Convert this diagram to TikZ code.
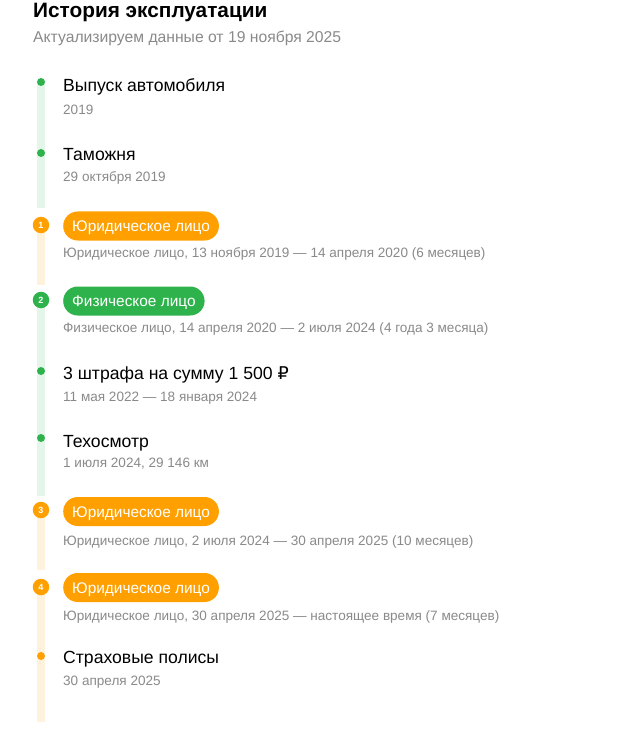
\documentclass[tikz,border=0pt]{standalone}
\usepackage{fontspec}
\setmainfont{Liberation Sans}
\newfontfamily\rubfont{DejaVu Sans}
\usetikzlibrary{positioning}

\definecolor{okgreen}{HTML}{2EB34C}
\definecolor{okorange}{HTML}{FFA000}
\definecolor{palegreen}{HTML}{E4F5EA}
\definecolor{paleorange}{HTML}{FFF2DD}
\definecolor{subgray}{HTML}{8A8A8A}

\begin{document}
\begin{tikzpicture} [x=1pt,y=-1pt,
     head/.style={anchor=base west, inner sep=0pt, font=\fontsize{17.6}{20}\selectfont},
     sub/.style={anchor=base west, inner sep=0pt, text=subgray, font=\fontsize{13.55}{15}\selectfont},
     dot/.style={circle, fill=#1, minimum size=8pt, inner sep=0pt},
     num/.style={circle, fill=#1, text=white, minimum size=16.5pt, inner sep=0pt,
                 font=\bfseries\fontsize{9}{9}\selectfont},
     pill/.style={rectangle, rounded corners=14.5pt, fill=#1, text=white, minimum height=29pt,
                  text height=11pt, text depth=0pt,
                  inner xsep=9pt, anchor=west, font=\fontsize{15.4}{18}\selectfont},
     bar/.style={line width=8pt, draw=#1}
   ]
\useasboundingbox [fill=white] (0,0) rectangle (640,743);

\node (title) [anchor=base west, inner sep=0pt, font=\bfseries\fontsize{20.8}{24}\selectfont] at (33,18) {История эксплуатации};
\node (update) [anchor=base west, inner sep=0pt, text=subgray, font=\fontsize{15.7}{18}\selectfont] at (33,43) {Актуализируем данные от 19 ноября 2025};

\coordinate (m1) at (41,82);
\coordinate (m2) at (41,153);
\coordinate (m3) at (41,225);
\coordinate (m4) at (41,300);
\coordinate (m5) at (41,371);
\coordinate (m6) at (41,438);
\coordinate (m7) at (41,510);
\coordinate (m8) at (41,587);
\coordinate (m9) at (41,656);
\coordinate (e1) at (41,208);
\coordinate (e3) at (41,285);
\coordinate (e4) at (41,496);
\coordinate (e7) at (41,570);
\coordinate (e8) at (41,722);

\draw [bar=palegreen] (m1) -- (e1);
\draw [bar=paleorange] (m3) -- (e3);
\draw [bar=palegreen] (m4) -- (e4);
\draw [bar=paleorange] (m7) -- (e7);
\draw [bar=paleorange] (m8) -- (e8);

\node (release) [dot=okgreen] at (m1) {};
\node (customs) [dot=okgreen] at (m2) {};
\node (owner1) [num=okorange] at (m3) {1};
\node (owner2) [num=okgreen] at (m4) {2};
\node (fines) [dot=okgreen] at (m5) {};
\node (inspect) [dot=okgreen] at (m6) {};
\node (owner3) [num=okorange] at (m7) {3};
\node (owner4) [num=okorange] at (m8) {4};
\node (policy) [dot=okorange] at (m9) {};

\node (releaseT) [head] at (63,92) {Выпуск автомобиля};
\node (releaseS) [sub] at (63,115) {2019};
\node (customsT) [head] at (63,161) {Таможня};
\node (customsS) [sub] at (63,182) {29 октября 2019};
\node (owner1T) [pill=okorange] at (63,226) {Юридическое лицо};
\node (owner1S) [sub] at (63,257) {Юридическое лицо, 13 ноября 2019 — 14 апреля 2020 (6 месяцев)};
\node (owner2T) [pill=okgreen] at (63,301) {Физическое лицо};
\node (owner2S) [sub] at (63,332) {Физическое лицо, 14 апреля 2020 — 2 июля 2024 (4 года 3 месяца)};
\node (finesT) [head] at (63,379) {3 штрафа на сумму 1 500 {\rubfont ₽}};
\node (finesS) [sub] at (63,401) {11 мая 2022 — 18 января 2024};
\node (inspectT) [head] at (63,447) {Техосмотр};
\node (inspectS) [sub] at (63,467) {1 июля 2024, 29 146 км};
\node (owner3T) [pill=okorange] at (63,511.5) {Юридическое лицо};
\node (owner3S) [sub] at (63,545) {Юридическое лицо, 2 июля 2024 — 30 апреля 2025 (10 месяцев)};
\node (owner4T) [pill=okorange] at (63,587.5) {Юридическое лицо};
\node (owner4S) [sub] at (63,620) {Юридическое лицо, 30 апреля 2025 — настоящее время (7 месяцев)};
\node (policyT) [head] at (63,663) {Страховые полисы};
\node (policyS) [sub] at (63,685) {30 апреля 2025};
\end{tikzpicture}
\end{document}
